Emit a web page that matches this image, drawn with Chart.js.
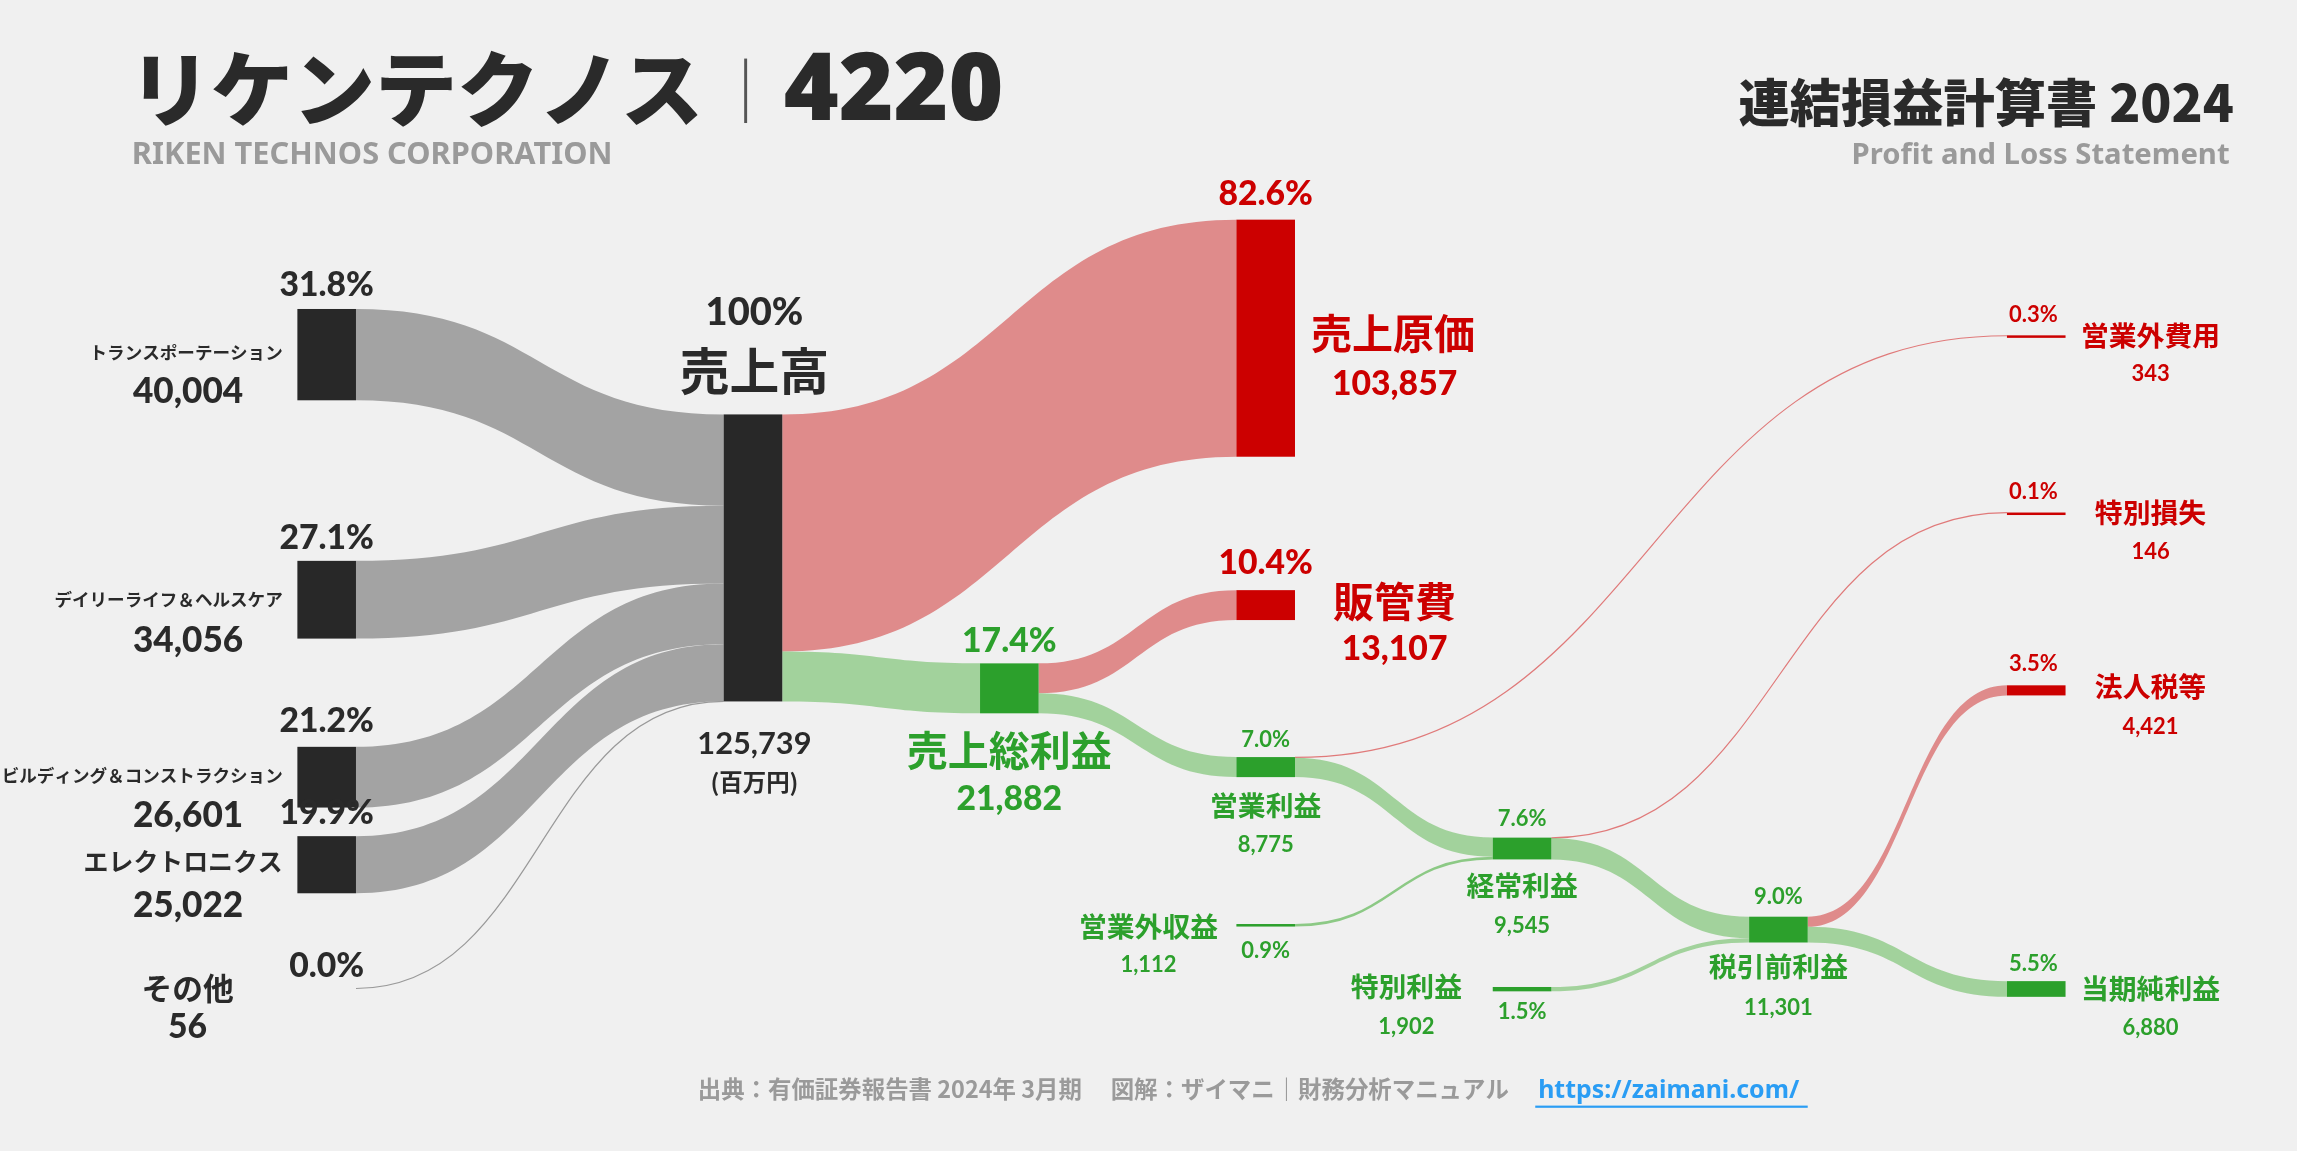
<!DOCTYPE html>
<html><head><meta charset="utf-8">
<script src="https://cdn.jsdelivr.net/npm/chart.js@4"></script>
<style>html,body{margin:0;padding:0;background:#f0f0f0;overflow:hidden}#wrap{width:2297px;height:1151px}</style>
</head><body><div id="wrap"><canvas id="c"></canvas></div>
<script>
// ノード（百万円）
const nodeIds = ['trans','daily','build','elec','other','sales','cost','gross','sga','op','nonOpExp','nonOpInc','ord','spLoss','spGain','pre','tax','net'];
const nodeValues = [40004,34056,26601,25022,56,125739,103857,21882,13107,8775,343,1112,9545,146,1902,11301,4421,6880];
// リンク
const linkFrom = ['trans','daily','build','elec','other','sales','sales','gross','gross','op','op','nonOpInc','ord','ord','spGain','pre','pre'];
const linkTo   = ['sales','sales','sales','sales','sales','cost','gross','sga','op','nonOpExp','ord','ord','spLoss','pre','pre','tax','net'];
const linkValues = [40004,34056,26601,25022,56,103857,21882,13107,8775,343,8432,1112,146,9399,1902,4421,6880];

// レイアウト（1568x786 基準座標）
const nodeX = {trans:203,daily:203,build:203,elec:203,other:203,sales:494,cost:844,gross:669,sga:844,op:844,nonOpExp:1370,nonOpInc:844,ord:1019,spLoss:1370,spGain:1019,pre:1194,tax:1370,net:1370};
const nodeY = {trans:211,daily:383,build:510,elec:571,other:675,sales:283,cost:150,gross:453,sga:403,op:517,nonOpExp:229,nonOpInc:631,ord:572,spLoss:350,spGain:674,pre:626,tax:468,net:670};
const K = 196/125739, NW = 40;
const col = {dark:'#282828',red:'#cc0000',green:'#2ca02c',grayF:'#a3a3a3',redF:'rgba(215,95,95,0.7)',greenF:'rgba(110,190,100,0.6)'};
const nodeColor = id => ['trans','daily','build','elec','other','sales'].includes(id)?col.dark:(['cost','sga','nonOpExp','spLoss','tax'].includes(id)?col.red:col.green);

const sankey = {
  id:'sankey',
  afterDraw(chart){
    const ctx = chart.ctx, xs = chart.scales.x, ys = chart.scales.y;
    const X = v=>xs.getPixelForValue(v), Y = v=>ys.getPixelForValue(v);
    const s = chart.width/1568;
    const outOff = {}, inOff = {};
    nodeIds.forEach(id=>{outOff[id]=0;inOff[id]=0;});
    // flows
    linkFrom.forEach((f,i)=>{
      const t = linkTo[i], h = linkValues[i]*K;
      const y0 = nodeY[f]+outOff[f], y1 = nodeY[t]+inOff[t];
      outOff[f]+=h; inOff[t]+=h;
      const x0 = X(nodeX[f]+NW), x1 = X(nodeX[t]);
      const red = nodeColor(t)===col.red, gray = nodeColor(t)===col.dark;
      const xm = (x0+x1)/2;
      if (h < 2){
        ctx.beginPath();
        ctx.moveTo(x0,Y(y0+h/2));
        ctx.bezierCurveTo(xm,Y(y0+h/2),xm,Y(y1+h/2),x1,Y(y1+h/2));
        ctx.strokeStyle = gray?'#999':(red?'#e07a7a':'#8cc985');
        ctx.lineWidth = Math.max(1.2, h*s); ctx.stroke();
        return;
      }
      ctx.beginPath();
      ctx.moveTo(x0,Y(y0));
      ctx.bezierCurveTo(xm,Y(y0),xm,Y(y1),x1,Y(y1));
      ctx.lineTo(x1,Y(y1+h));
      ctx.bezierCurveTo(xm,Y(y1+h),xm,Y(y0+h),x0,Y(y0+h));
      ctx.closePath();
      ctx.fillStyle = gray?col.grayF:(red?col.redF:col.greenF);
      ctx.fill();
    });
    // nodes
    nodeIds.forEach((id,i)=>{
      const h = nodeValues[i]*K;
      if (id==='other') return;
      ctx.fillStyle = nodeColor(id);
      const hh = Math.max(Y(nodeY[id]+h)-Y(nodeY[id]), 2.5);
      ctx.fillRect(X(nodeX[id]),Y(nodeY[id]),X(nodeX[id]+NW)-X(nodeX[id]),hh);
    });
    // texts
    const T = (str,x,y,size,color,align='center',weight='bold',fam='"Noto Sans CJK JP"')=>{
      ctx.font = `${weight} ${size*s}px ${fam}`; ctx.fillStyle=color; ctx.textAlign=align; ctx.textBaseline='alphabetic';
      ctx.fillText(str,X(x),Y(y));
    };
    const D='#2a2a2a', R='#cc0000', G='#2ca02c', L='"Lato","Noto Sans CJK JP"';
    T('リケンテクノス',88,82,56,D,'left','900');
    ctx.fillStyle='#555'; ctx.fillRect(X(508),Y(40),2*s,Y(84)-Y(40));
    T('4220',535,82,64,D,'left','900','"Noto Sans"');
    T('RIKEN TECHNOS CORPORATION',90,112,21,'#9a9a9a','left','bold','"Noto Sans"');
    T('連結損益計算書 2024',1525,83,35,D,'right','900');
    T('Profit and Loss Statement',1522,112,20,'#9a9a9a','right','bold','"Noto Sans"');
    // left
    const left = [['31.8%','トランスポーテーション','40,004',202,241,275,12],['27.1%','デイリーライフ＆ヘルスケア','34,056',375,410,445,12],['21.2%','ビルディング＆コンストラクション','26,601',500,530,565,12],['19.9%','エレクトロニクス','25,022',563,591,626,17]];
    left.forEach(a=>{T(a[0],223,a[3],23,D,'center','900',L);T(a[1],193,a[4]+4,a[6],D,'right');T(a[2],166,a[5],24,D,'right','900',L);});
    T('0.0%',223,667,23,D,'center','900',L);T('その他',128,683,21,D);T('56',128,709,23,D,'center','900',L);
    T('100%',515,222,26,D,'center','900',L);T('売上高',515,266,34,D);T('125,739',515,515,21,D,'center','bold',L);T('(百万円)',515,540,16,D);
    T('82.6%',864,140,23,R,'center','900',L);T('売上原価',895,238,28,R,'left');T('103,857',952,270,23,R,'center','900',L);
    T('10.4%',864,392,23,R,'center','900',L);T('販管費',952,421,28,R);T('13,107',952,451,23,R,'center','900',L);
    T('17.4%',689,445,23,G,'center','900',L);T('売上総利益',689,523,28,G);T('21,882',689,553,23,G,'center','900',L);
    const mid=[['7.0%','営業利益','8,775',864,510,557,582],['7.6%','経常利益','9,545',1039,564,612,637],['9.0%','税引前利益','11,301',1214,617,667,693]];
    mid.forEach(a=>{T(a[0],a[3],a[4],15,G,'center','bold',L);T(a[1],a[3],a[5],19,G);T(a[2],a[3],a[6],15,G,'center','bold',L);});
    T('営業外収益',784,640,19,G);T('1,112',784,664,15,G,'center','bold',L);T('0.9%',864,654,15,G,'center','bold',L);
    T('特別利益',960,681,19,G);T('1,902',960,706,15,G,'center','bold',L);T('1.5%',1039,696,15,G,'center','bold',L);
    const right=[['0.3%','営業外費用','343',220,236,260,R],['0.1%','特別損失','146',341,357,382,R],['3.5%','法人税等','4,421',458,476,501,R],['5.5%','当期純利益','6,880',663,682,707,G]];
    right.forEach(a=>{T(a[0],1388,a[3],15,a[6],'center','bold',L);T(a[1],1468,a[4],19,a[6]);T(a[2],1468,a[5],15,a[6],'center','bold',L);});
    T('出典：有価証券報告書 2024年 3月期　 図解：ザイマニ｜財務分析マニュアル',1030,750,16,'#9a9a9a','right');
    T('https://zaimani.com/',1050,750,17,'#2a9df4','left','bold','"Noto Sans"');
    ctx.fillStyle='#2a9df4'; ctx.fillRect(X(1048),Y(755),X(1234)-X(1048),1.5*s);
  }
};

new Chart(document.getElementById('c'),{
  type:'scatter',
  data:{datasets:[{data:[],pointRadius:0}]},
  options:{responsive:true,maintainAspectRatio:false,animation:false,
    layout:{padding:0},
    plugins:{legend:{display:false},tooltip:{enabled:false}},
    scales:{x:{type:'linear',min:0,max:1568,display:false},y:{type:'linear',min:0,max:786,reverse:true,display:false}}},
  plugins:[{id:'bg',beforeDraw(c){c.ctx.fillStyle='#f0f0f0';c.ctx.fillRect(0,0,c.width,c.height);}},sankey]
});
</script></body></html>
